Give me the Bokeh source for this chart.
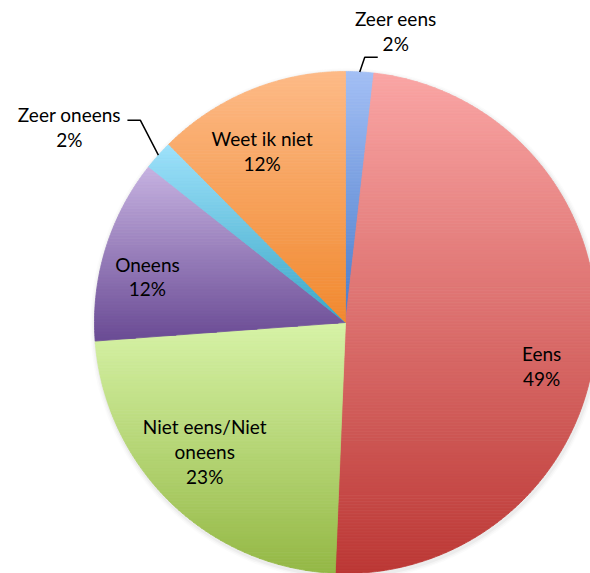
import math
import numpy as np
from bokeh.plotting import figure
from bokeh.models import Range1d
from bokeh.core.properties import value
from bokeh.embed import file_html
from bokeh.resources import INLINE

# ---------------- data ----------------
categories = ["Zeer eens", "Eens", "Niet eens/Niet oneens", "Oneens", "Zeer oneens", "Weet ik niet"]
values = [1.8, 48.7, 23.1, 11.8, 1.9, 12.4]
top_colors = ["#a3bff5", "#faa5a4", "#d7f3a7", "#c6b2e1", "#9ee2fb", "#fdba87"]
bottom_colors = ["#4a7bc9", "#bc3835", "#94b845", "#6a4b94", "#3aa6c6", "#f1892f"]

# ---------------- layout ----------------
R = 251.0
# inside labels: (radius fraction, angle nudge deg)
inside_layout = {1: (0.80, 8.0), 2: (0.76, 3.5), 3: (0.81, -4.0), 5: (0.76, -3.5)}
# outside labels: elbow extra radius, elbow angle nudge, horizontal length (signed), label offset
outside_layout = {0: (15.0, 0.9, 13.0, (18.0, 26.5)), 4: (37.0, 2.8, -13.0, (-58.0, -7.0))}
FONT = "Lato"
FSIZE = "19px"

p = figure(width=590, height=573, output_backend="svg", toolbar_location=None,
           x_range=Range1d(-345, 245), y_range=Range1d(-251, 322),
           min_border=0, min_border_left=0, min_border_right=0,
           min_border_top=0, min_border_bottom=0)
p.axis.visible = False
p.grid.visible = False
p.outline_line_color = None
p.background_fill_color = "white"
p.border_fill_color = "white"

total = float(sum(values))
cum = np.concatenate([[0.0], np.cumsum(values)]) / total * 360.0


def polar(theta_deg, r):
    t = math.radians(theta_deg)
    return r * math.sin(t), r * math.cos(t)


def hex2rgb(h):
    h = h.lstrip("#")
    return tuple(int(h[i:i + 2], 16) for i in (0, 2, 4))


def mix(c1, c2, t):
    a, b = hex2rgb(c1), hex2rgb(c2)
    return "#%02x%02x%02x" % tuple(int(round(a[i] + (b[i] - a[i]) * t)) for i in range(3))


def clip(poly, y0, keep_above):
    out = []
    n = len(poly)
    for i in range(n):
        cx, cy = poly[i]
        px, py = poly[i - 1]
        cin = cy >= y0 if keep_above else cy <= y0
        pin = py >= y0 if keep_above else py <= y0
        if cin:
            if not pin:
                t = (y0 - py) / (cy - py)
                out.append((px + t * (cx - px), y0))
            out.append((cx, cy))
        elif pin:
            t = (y0 - py) / (cy - py)
            out.append((px + t * (cx - px), y0))
    return out


# soft shadow
for k, a in [(5, 0.035), (3.5, 0.05), (2, 0.07)]:
    p.circle(x=[1.0], y=[-2.0], radius=R + k, fill_color="#808080", fill_alpha=a,
             line_color=None)

xs_all, ys_all, cols = [], [], []
for i, cat in enumerate(categories):
    a0, a1 = cum[i], cum[i + 1]
    n = max(int(math.ceil(a1 - a0)) * 2, 4)
    pts = [(0.0, 0.0)] + [polar(a, R) for a in np.linspace(a0, a1, n + 1)]
    ymax = max(pt[1] for pt in pts)
    ymin = min(pt[1] for pt in pts)
    nb = max(int((ymax - ymin) / 3.0), 1)
    edges = np.linspace(ymax, ymin, nb + 1)
    for b in range(nb):
        poly = clip(pts, edges[b], keep_above=False)
        poly = clip(poly, edges[b + 1], keep_above=True)
        if len(poly) < 3:
            continue
        t = (b + 0.5) / nb
        xs_all.append([q[0] for q in poly])
        ys_all.append([q[1] for q in poly])
        cols.append(mix(top_colors[i], bottom_colors[i], t))

p.patches(xs=xs_all, ys=ys_all, fill_color=cols, line_color=cols, line_width=0.8)


def wrap(s, width=15):
    if len(s) <= width:
        return s
    cut = s.rfind(" ", 0, width)
    return s[:cut] + "\n" + s[cut + 1:]


lx, ly, lt = [], [], []
for i, cat in enumerate(categories):
    mid = 0.5 * (cum[i] + cum[i + 1])
    pct = "%d%%" % int(round(values[i] / total * 100))
    txt = wrap(cat) + "\n" + pct
    if i in inside_layout:
        frac, dang = inside_layout[i]
        x, y = polar(mid + dang, R * frac)
    else:
        er, edang, hl, (ox, oy) = outside_layout[i]
        sx, sy = polar(mid, R)
        ex, ey = polar(mid + edang, R + er)
        hx = ex + hl
        p.line(x=[sx, ex, hx], y=[sy, ey, ey], line_color="black", line_width=1.5)
        x, y = hx + ox, ey + oy
    lx.append(x)
    ly.append(y)
    lt.append(txt)

p.text(x=lx, y=ly, text=lt, text_align="center", text_baseline="middle",
       text_font=value(FONT), text_font_size=FSIZE, text_color="black",
       text_line_height=1.08)

open("out.html", "w").write(file_html(p, INLINE))
